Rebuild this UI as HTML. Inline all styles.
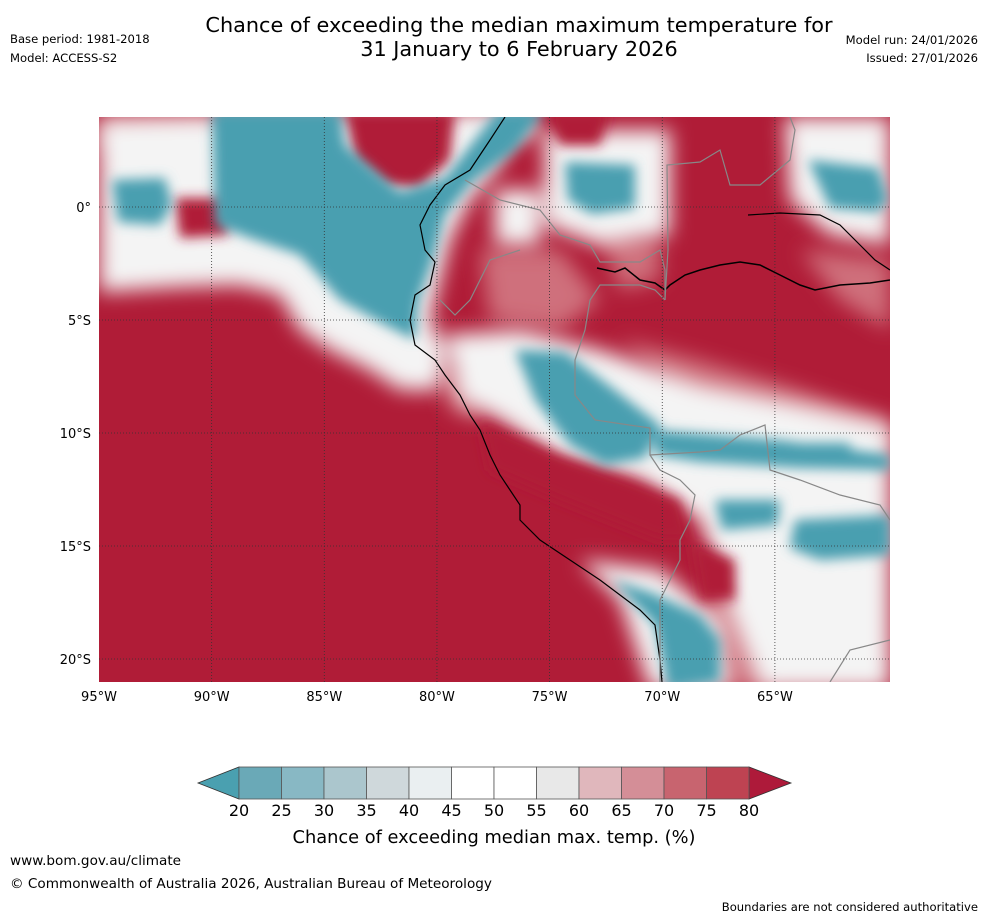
<!DOCTYPE html>
<html><head><meta charset="utf-8"><style>
body{margin:0;background:#fff;width:988px;height:919px;overflow:hidden;font-family:"Liberation Sans",sans-serif}
svg{display:block}
text{font-family:"DejaVu Sans","Liberation Sans",sans-serif}
</style></head><body>
<svg id="chart" width="988" height="919" viewBox="0 0 988 919">
<defs>
<clipPath id="mapclip"><rect x="99" y="117" width="791" height="565"/></clipPath>
<filter id="b1" x="-20%" y="-20%" width="140%" height="140%"><feGaussianBlur stdDeviation="10"/></filter>
<filter id="b2" x="-20%" y="-20%" width="140%" height="140%"><feGaussianBlur stdDeviation="6"/></filter>
</defs>
<text x="519" y="32" font-size="20.8" text-anchor="middle">Chance of exceeding the median maximum temperature for</text>
<text x="519" y="56" font-size="20.8" text-anchor="middle">31 January to 6 February 2026</text>
<text x="10" y="43" font-size="11.6">Base period: 1981-2018</text>
<text x="10" y="62" font-size="11.6">Model: ACCESS-S2</text>
<text x="978" y="44" font-size="11.6" text-anchor="end">Model run: 24/01/2026</text>
<text x="978" y="62" font-size="11.6" text-anchor="end">Issued: 27/01/2026</text>

<g clip-path="url(#mapclip)">
<rect x="80" y="100" width="830" height="600" fill="#b01c37"/>
<g filter="url(#b1)" fill="#cf6f7c">
<polygon points="480,250 560,250 600,300 560,330 490,320"/>
<polygon points="600,230 660,240 660,280 620,290"/>
<polygon points="800,250 890,260 890,330 840,300"/>
<polygon points="620,340 700,360 800,390 890,420 890,450 780,440 680,400"/>
<polygon points="99,117 220,117 200,150 99,150"/>
<polygon points="700,590 760,600 770,690 720,690"/>
<polygon points="440,360 480,380 480,420 450,410"/>
</g>
<g filter="url(#b1)" fill="#f4f4f4">
<polygon points="99,120 530,110 500,165 470,200 450,240 440,280 430,320 445,350 440,390 400,390 370,370 330,350 300,330 280,295 240,285 180,287 99,292"/>
<polygon points="445,335 520,330 600,350 700,385 800,405 890,425 890,690 760,690 730,610 700,520 640,480 560,460 500,420 460,400"/>
<polygon points="545,130 670,130 670,235 600,245 545,225"/>
<polygon points="785,117 890,117 890,245 830,235 790,200"/>
<polygon points="495,190 540,190 540,245 495,245"/>
<polygon points="580,560 660,570 720,620 730,690 650,690 620,600"/>
<polygon points="500,117 540,117 530,140 500,140"/>
</g>
<g filter="url(#b2)" fill="#b01c37">
<polygon points="345,110 455,110 450,160 420,188 385,185 355,160"/>
<polygon points="175,198 225,198 228,235 180,238"/>
<polygon points="545,110 610,110 600,145 560,145"/>
<polygon points="690,540 735,560 735,600 700,600"/>
<polygon points="480,420 560,455 630,480 680,500 690,540 660,540 560,500 490,470"/>
</g>
<g filter="url(#b2)" fill="#4a9fb0">
<polygon points="212,110 340,110 345,145 400,192 445,178 498,110 545,110 515,150 472,182 445,215 432,262 418,302 415,340 385,325 340,300 318,275 300,255 250,238 215,225"/>
<polygon points="112,180 165,178 172,205 160,225 118,222"/>
<polygon points="565,162 635,165 635,208 592,214 568,200"/>
<polygon points="808,160 878,168 888,200 878,212 830,208"/>
<polygon points="515,350 565,352 615,390 660,425 645,458 605,465 570,445 535,400"/>
<polygon points="655,430 780,440 890,455 890,470 800,468 700,462 655,455"/>
<polygon points="805,443 850,443 852,465 810,465"/>
<polygon points="715,500 780,500 778,525 722,530"/>
<polygon points="795,520 890,515 890,555 820,560 790,548"/>
<polygon points="612,580 650,592 700,615 720,640 720,682 668,690 655,625"/>
</g>
</g>
<g clip-path="url(#mapclip)" fill="none">
<polyline stroke="#000" stroke-width="1.2" points="505,117 490,140 470,170 445,185 430,205 420,225 425,250 435,262 430,285 415,295 410,320 415,345 435,360 445,375 460,395 470,415 480,430 490,455 500,475 510,490 520,505 520,520 540,540 570,560 600,580 620,595 640,610 655,625 660,660 662,682"/>
<polyline stroke="#000" stroke-width="1.5" points="597,268 615,272 625,268 640,280 655,283 665,290 670,285 685,275 700,270 720,265 740,262 760,265 780,275 800,285 815,290 840,285 870,283 890,280"/>
<polyline stroke="#000" stroke-width="1.2" points="748,215 780,213 820,215 840,225 860,245 875,260 890,270"/>
<g stroke="#888" stroke-width="1.2">
<polyline points="465,180 500,200 540,210 560,235 590,245 600,262 640,262 660,250 665,270 665,300"/>
<polyline points="665,300 655,290 640,285 600,285 590,300 585,330 575,360 575,395 595,420 650,428 650,455 700,452 720,450 740,435 765,425 770,470 800,480 840,495 880,505 890,520"/>
<polyline points="665,300 668,250 667,165 700,162 720,150 730,185 760,185 790,160 795,130 790,117"/>
<polyline points="650,455 660,470 680,480 695,495 690,520 680,540 680,560 670,580 660,600 660,682"/>
<polyline points="440,300 455,315 470,300 490,260 520,250"/>
<polyline points="830,682 850,650 890,640"/>
</g>
</g>
<g stroke="#333" stroke-width="0.8" stroke-dasharray="1,2" id="grid"></g>
<g id="axisLabels" font-size="13"></g>
<g id="colorbar"></g>
<text x="494" y="843" font-size="17.8" text-anchor="middle">Chance of exceeding median max. temp. (%)</text>
<text x="10" y="865" font-size="13.6">www.bom.gov.au/climate</text>
<text x="10" y="888" font-size="13.6">© Commonwealth of Australia 2026, Australian Bureau of Meteorology</text>
<text x="978" y="911" font-size="11.6" text-anchor="end">Boundaries are not considered authoritative</text>
</svg>
<script>
const lonTicks=[-95,-90,-85,-80,-75,-70,-65];
const lonLabels=["95°W","90°W","85°W","80°W","75°W","70°W","65°W"];
const latTicks=[0,-5,-10,-15,-20];
const latLabels=["0°","5°S","10°S","15°S","20°S"];
const cbLevels=[20,25,30,35,40,45,50,55,60,65,70,75,80];
const cbColors=["#6aa9b7","#88b8c4","#abc6cd","#cfd8db","#eaeff1","#ffffff","#ffffff","#e8e8e8","#e0b7bc","#d48e97","#c8646f","#be4352"];
const NS="http://www.w3.org/2000/svg";
const xLon=l=>99+(l+95)*22.53;
const yLat=l=>207-l*22.6;
const xCb=v=>239+(v-20)*8.5;
function mk(t,a,p){const e=document.createElementNS(NS,t);for(const k in a)e.setAttribute(k,a[k]);p.appendChild(e);return e;}
const grid=document.getElementById('grid'),al=document.getElementById('axisLabels');
lonTicks.forEach((l,i)=>{const x=xLon(l);
 if(i>0){const g=mk('line',{x1:x,x2:x,y1:117,y2:682},grid);
 
 }
 const t=mk('text',{x:x,y:701,'text-anchor':'middle'},al);t.textContent=lonLabels[i];
 
 });
latTicks.forEach((l,i)=>{const y=yLat(l);
 const g=mk('line',{x1:99,x2:890,y1:y,y2:y},grid);
 
 
 const t=mk('text',{x:91,y:y+5,'text-anchor':'end'},al);t.textContent=latLabels[i];
 
 });
const cb=document.getElementById('colorbar');
const y0=767,y1=799,ym=(y0+y1)/2;
const la=mk('polygon',{points:`${xCb(20)},${y0} ${xCb(20)},${y1} 198,${ym}`,fill:'#4aa0b0',stroke:'#333','stroke-width':0.8},cb);


const ra=mk('polygon',{points:`${xCb(80)},${y0} ${xCb(80)},${y1} 791,${ym}`,fill:'#ae1a3a',stroke:'#333','stroke-width':0.8},cb);


cbColors.forEach((c,i)=>{const x=xCb(cbLevels[i]);
 const r=mk('rect',{x:x,y:y0,width:xCb(cbLevels[i+1])-x,height:y1-y0,fill:c,stroke:'#555','stroke-width':0.8},cb);
 
 });
cbLevels.forEach(v=>{const t=mk('text',{x:xCb(v),y:816,'text-anchor':'middle','font-size':16},cb);t.textContent=v;
 
 });
</script>
</body></html>
